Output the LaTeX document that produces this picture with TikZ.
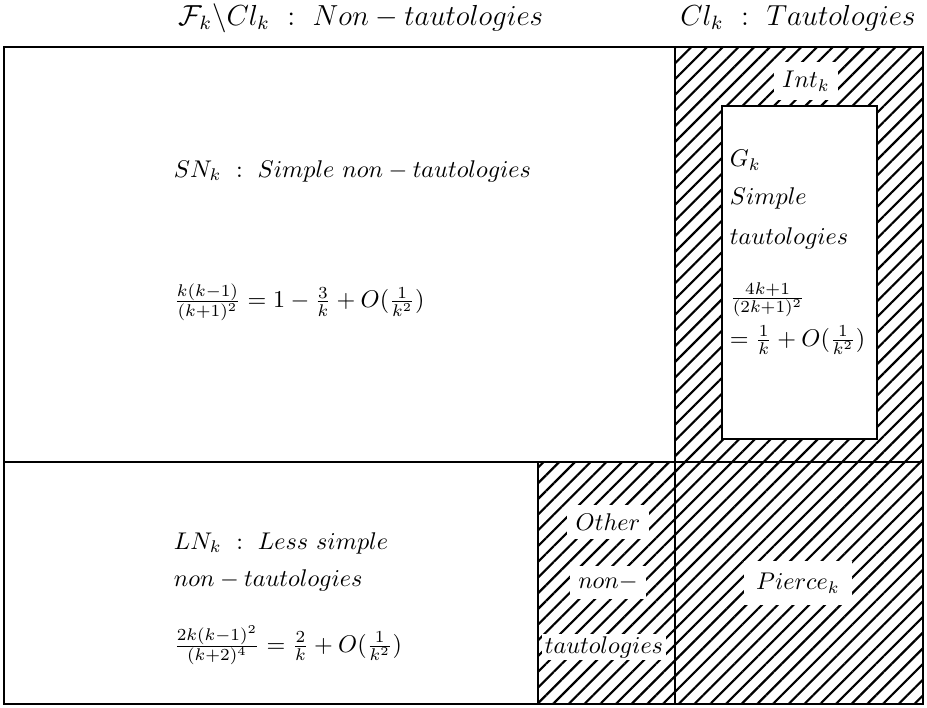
\documentclass[tikz,border=0pt]{standalone}
\usepackage{amsmath,amssymb}
\usetikzlibrary{patterns.meta}
\tikzset{every picture/.style={line width=0.8pt},
  hatch/.style={pattern={Lines[angle=45,distance=4.6pt,line width=0.9pt]}},
  cut/.style={fill=white,inner sep=3.5pt},
  lft/.style={anchor=west,inner sep=0pt},
  head/.style={font=\large}}

\begin{document}
\begin{tikzpicture}[x=0.414pt,y=-0.414pt]
\useasboundingbox (0,0) rectangle (927,707);
% hatched parts
\fill[hatch] (675,47) rectangle (923,704);
\fill[hatch] (538,462) rectangle (675,704);
\filldraw[fill=white] (722,106) rectangle (877,439);
% frame
\draw (4,47) rectangle (923,704);
\draw (4,462) -- (923,462);
\draw (675,47) -- (675,704);
\draw (538,462) -- (538,704);
% headings
\node[head] (nontaut) at (361,18) {$\mathcal{F}_k\backslash Cl_k\ :\ Non-tautologies$};
\node[head] (taut) at (798,18) {$Cl_k\ :\ Tautologies$};
% simple non-tautologies
\node[lft] (sn) at (173,171) {$SN_k\ :\ Simple\ non-tautologies$};
\node[lft] (snval) at (173,302) {$\frac{k(k-1)}{(k+1)^2}=1-\frac{3}{k}+O(\frac{1}{k^2})$};
% less simple
\node[lft] (ln) at (173,543) {$LN_k\ :\ Less\ simple$};
\node[lft] (ln2) at (173,580) {$non-tautologies$};
\node[lft] (lnval) at (173,645) {$\frac{2k(k-1)^2}{(k+2)^4}=\frac{2}{k}+O(\frac{1}{k^2})$};
% other
\node[cut] (oth1) at (608,522) {$Other$};
\node[cut] (oth2) at (608,582) {$non-$};
\node[cut,inner sep=1pt] (oth3) at (604,647) {$tautologies$};
% tautologies
\node[cut] (int) at (806,81) {$Int_k$};
\node[cut,inner sep=5pt] (pierce) at (798,583) {$Pierce_k$};
\node[lft] (g) at (729,160) {$G_k$};
\node[lft] (g2) at (729,198) {$Simple$};
\node[lft] (g3) at (729,238) {$tautologies$};
\node[lft] (gval) at (729,300) {$\frac{4k+1}{(2k+1)^2}$};
\node[lft] (gval2) at (729,340) {$=\frac{1}{k}+O(\frac{1}{k^2})$};
\end{tikzpicture}
\end{document}
